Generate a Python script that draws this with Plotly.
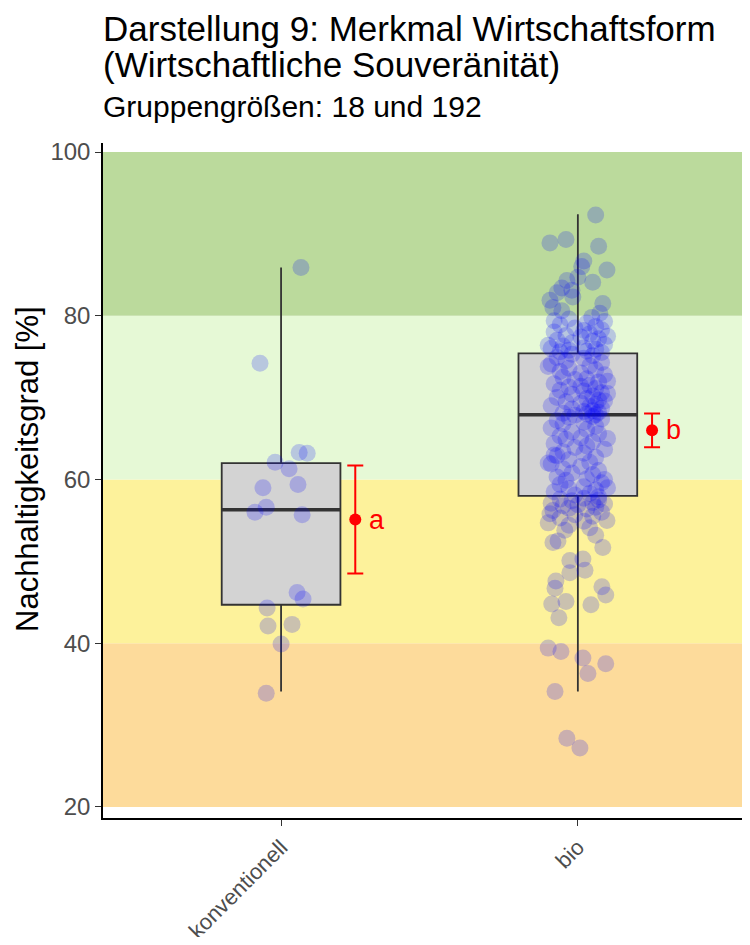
import plotly.graph_objects as go

# --- Daten ---
gruppen = ["konventionell", "bio"]

konv_werte = [85.9, 74.2, 63.3, 63.2, 62.1, 61.3, 59.0, 59.4, 56.6,
              56.0, 55.7, 46.2, 45.4, 44.3, 42.1, 42.3, 39.9, 33.9]
konv_jitter = [0.067, -0.071, 0.061, 0.088, -0.02, 0.027, -0.061, 0.057, -0.05,
               -0.088, 0.071, 0.054, 0.074, -0.047, -0.044, 0.037, 0.0, -0.05]

bio_werte = [
    # oberhalb 80
    92.3, 89.3, 88.9, 88.5, 86.7, 86.0, 85.6, 84.7, 84.3, 84.1,
    83.4, 83.1, 82.3, 81.9, 81.5, 81.0, 80.3, 82.8, 80.6, 79.8,
    # 75.4 - 80
    79.6, 79.3, 79.1, 78.9, 78.7, 78.5, 78.3, 78.0, 77.8, 77.6,
    77.4, 77.2, 77.0, 76.9, 76.7, 76.5, 76.3, 76.1, 76.0, 75.9,
    75.8, 75.7, 75.6, 75.5, 79.4, 78.2, 77.5, 76.4,
    # obere Box
    75.3, 75.1, 74.9, 74.8, 74.5, 74.3, 74.1, 73.9, 73.6, 73.4,
    73.2, 73.0, 72.8, 72.5, 72.3, 72.2, 71.9, 71.7, 71.5, 71.3,
    71.1, 70.9, 70.8, 70.6, 70.4, 70.2, 70.0, 69.9, 69.7, 69.5,
    69.3, 69.2, 69.0, 68.9, 68.7, 68.6, 68.4, 68.3, 68.2, 68.1,
    68.0, 67.9, 67.85, 72.0, 73.8, 70.5, 69.6, 71.4,
    # untere Box
    67.7, 67.6, 67.4, 67.2, 67.0, 66.8, 66.5, 66.3, 66.1, 65.8,
    65.6, 65.3, 65.1, 64.9, 64.6, 64.4, 64.1, 63.9, 63.7, 63.4,
    63.2, 62.9, 62.7, 62.4, 62.1, 61.9, 61.6, 61.3, 61.1, 60.8,
    60.6, 60.3, 60.1, 59.9, 59.6, 59.4, 59.1, 58.9, 58.7, 58.5,
    58.3, 58.1, 57.9, 65.0, 62.0, 60.0, 63.0, 59.0,
    # unterhalb der Box
    56.2, 55.8, 55.0, 54.7, 54.1, 53.8, 52.5, 52.3, 51.7, 50.3,
    50.1, 48.9, 48.6, 47.6, 46.9, 46.7, 45.9, 45.1, 44.8, 44.7,
    43.1, 39.4, 39.0, 38.2, 37.5, 36.3, 34.1, 28.4, 27.2,
    57.7, 57.6, 57.5, 57.4, 57.2, 57.1, 57.0, 56.9, 56.8, 56.6,
    56.5, 56.4, 56.0, 55.7, 55.5, 55.3, 54.9, 54.4, 53.2,
]
bio_jitter = [
    0.06, -0.04, -0.094, 0.07, 0.02, 0.013, 0.098, 0.0, -0.037, 0.05,
    -0.054, -0.02, -0.017, -0.094, 0.084, -0.084, 0.074, -0.07, -0.054, 0.047,
    -0.03, 0.09, 0.03, -0.06, 0.06, -0.01, 0.08, -0.08, 0.04, -0.04,
    0.01, 0.07, -0.07, 0.05, -0.02, 0.09, -0.05, 0.02, -0.09, 0.06,
    -0.03, 0.03, -0.06, 0.08, -0.08, 0.02, 0.1, -0.1,
    -0.02, 0.05, -0.07, 0.02, -0.04, 0.08, -0.09, 0.04, -0.03, 0.06,
    -0.06, 0.01, 0.09, -0.05, 0.03, -0.01, 0.07, -0.08, 0.04, -0.03,
    0.06, -0.06, 0.02, 0.08, -0.02, 0.05, -0.07, 0.03, 0.07, -0.04,
    0.01, 0.06, -0.09, 0.04, 0.08, -0.02, 0.05, 0.02, 0.07, -0.05,
    0.03, 0.06, -0.01, 0.1, -0.1, 0.1, 0.09, 0.01,
    0.05, -0.03, 0.08, -0.07, 0.02, -0.05, 0.06, -0.09, 0.03, -0.02,
    0.07, -0.06, 0.01, -0.04, 0.05, -0.08, 0.03, -0.01, 0.09, -0.05,
    0.02, -0.07, 0.06, -0.03, 0.04, -0.09, 0.01, -0.05, 0.07, -0.02,
    0.05, -0.07, 0.03, -0.04, 0.08, -0.06, 0.02, -0.03, 0.06, -0.08,
    0.04, -0.01, 0.07, 0.1, -0.1, 0.09, -0.08, 0.1,
    -0.084, -0.094, 0.098, -0.1, 0.04, -0.044, -0.067, -0.084, 0.084, 0.017,
    -0.027, 0.024, -0.027, -0.074, 0.081, -0.077, 0.094, -0.04, -0.088, 0.044,
    -0.064, -0.1, -0.057, 0.017, 0.094, 0.034, -0.077, -0.037, 0.007,
    0.02, -0.06, 0.07, -0.02, 0.05, -0.09, 0.09, 0.0, -0.05, 0.06,
    -0.03, 0.03, 0.08, -0.01, 0.05, -0.06, 0.02, -0.03, 0.06,
]

# Boxplot-Kennwerte
box_q1 = [44.7, 58.0]
box_median = [56.3, 67.9]
box_q3 = [62.0, 75.4]
box_unten = [34.1, 34.1]
box_oben = [85.9, 92.4]

# Mittelwerte mit Fehlerbalken
mittelwerte = [55.1, 66.0]
fehler = [6.6, 2.05]
buchstaben = ["a", "b"]

# Bewertungsbereiche
band_grenzen = [20, 40, 60, 80, 100]
band_farben = ["#FDDB9B", "#FDF29B", "#E6F9D6", "#BBDA9C"]

FONT = "Liberation Sans, Arial, sans-serif"
BOXBREITE = 0.4
pos = [1, 2]

fig = go.Figure()

# Hintergrundbaender
for i, farbe in enumerate(band_farben):
    fig.add_shape(type="rect", xref="paper", yref="y", x0=0, x1=1,
                  y0=band_grenzen[i], y1=band_grenzen[i + 1],
                  fillcolor=farbe, line_width=0, layer="below")

# Boxen
fig.add_trace(go.Box(
    x=pos, q1=box_q1, median=box_median, q3=box_q3,
    lowerfence=box_unten, upperfence=box_oben,
    width=BOXBREITE, whiskerwidth=0,
    fillcolor="#D3D3D3", line=dict(color="#333333", width=1.8),
    boxpoints=False, showlegend=False, hoverinfo="skip",
))

# dickere Medianlinie
for p, med in zip(pos, box_median):
    fig.add_trace(go.Scatter(
        x=[p - BOXBREITE / 2, p + BOXBREITE / 2], y=[med, med],
        mode="lines", line=dict(color="#333333", width=3.5),
        showlegend=False, hoverinfo="skip",
    ))

# Einzelwerte (gejittert)
for p, werte, jit in [(1, konv_werte, konv_jitter), (2, bio_werte, bio_jitter)]:
    fig.add_trace(go.Scatter(
        x=[p + j for j in jit], y=werte, mode="markers",
        marker=dict(size=17, color="rgba(0,0,255,0.2)", line_width=0),
        showlegend=False,
    ))

# Mittelwert +- Fehler
fig.add_trace(go.Scatter(
    x=[p + 0.25 for p in pos], y=mittelwerte, mode="markers",
    marker=dict(size=12, color="red"),
    error_y=dict(type="data", array=fehler, color="red", thickness=2, width=8),
    showlegend=False,
))
for p, m, b in zip(pos, mittelwerte, buchstaben):
    fig.add_annotation(x=p + 0.25, y=m, text=b, showarrow=False,
                       xanchor="left", xshift=12,
                       font=dict(family=FONT, size=27, color="red"))

# Titel (zwei Zeilen) und Untertitel
titel_zeilen = ["Darstellung 9: Merkmal Wirtschaftsform", "(Wirtschaftliche Souveränität)"]
for zeile, ypos in zip(titel_zeilen, [1.169, 1.1156]):
    fig.add_annotation(
        xref="paper", yref="paper", x=0, y=ypos, xshift=-2,
        text=zeile, showarrow=False, xanchor="left", yanchor="middle", align="left",
        font=dict(family=FONT, size=35, color="black"),
    )
fig.add_annotation(
    xref="paper", yref="paper", x=0, y=1.0548, xshift=-2,
    text="Gruppengrößen: 18 und 192",
    showarrow=False, xanchor="left", yanchor="middle", align="left",
    font=dict(family=FONT, size=30, color="black"),
)

# Achsentitel y
fig.add_annotation(
    xref="paper", yref="paper", x=-0.1175, y=0.517,
    text="Nachhaltigkeitsgrad [%]", textangle=-90, showarrow=False,
    xanchor="center", yanchor="middle",
    font=dict(family=FONT, size=31, color="black"),
)

fig.update_xaxes(
    range=[0.4, 2.58], tickvals=pos, ticktext=gruppen, tickangle=-45,
    showgrid=False, zeroline=False, showline=True, linecolor="black", linewidth=1.5,
    ticks="outside", ticklen=6, tickcolor="#333333",
    tickfont=dict(family=FONT, size=22, color="#4D4D4D"),
)
fig.update_yaxes(
    range=[18.65, 101.1], tickvals=[20, 40, 60, 80, 100],
    showgrid=False, zeroline=False, showline=True, linecolor="black", linewidth=1.5,
    ticks="outside", ticklen=6, tickcolor="#333333",
    tickfont=dict(family=FONT, size=24, color="#4D4D4D"),
)

fig.update_layout(
    width=742, height=929,
    margin=dict(l=95, r=0, t=135, b=119, autoexpand=False),
    plot_bgcolor="white", paper_bgcolor="white",
    font=dict(family=FONT),
)

fig.write_html("out.html")
